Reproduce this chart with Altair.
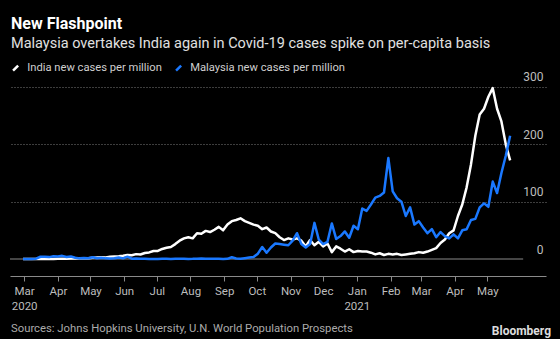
import altair as alt
import pandas as pd

# ---- data ----
SERIES = ["India new cases per million", "Malaysia new cases per million"]
COLORS = ["#ffffff", "#1a78ff"]

# sample dates: every 4 days from 2020-02-29 to 2021-05-22
dates = pd.date_range("2020-02-29", periods=113, freq="4D")

india = [
    0, 0, 0, 0, 0.02, 0.04, 0.07, 0.1, 0.3, 0.35,
    0.6, 0.7, 0.7, 1.1, 1.3, 1.2, 2.0, 2.5, 3.0, 2.8,
    4.0, 4.5, 4.8, 5.5, 7.0, 6.5, 8.5, 7.8, 10.5, 11.5,
    14, 14, 17.5, 19.5, 21, 26, 32, 36, 38, 36,
    45, 44, 49, 47, 51, 56, 50, 60, 66, 68,
    71, 66, 63, 60, 58, 52, 55, 48, 45, 38,
    33, 36, 34, 36, 32, 22, 33, 24, 30, 22,
    27, 12, 22, 18, 13, 17, 12, 14, 13, 13,
    11, 8, 10, 7, 9, 8, 9, 7, 8, 9,
    10, 12, 11, 13, 16, 19, 28, 34, 45, 50,
    75, 95, 125, 165, 215, 252, 262, 283, 298, 262,
    240, 200, 172,
]

malaysia = [
    0, 0.1, 0.2, 0.5, 3.9, 4.0, 3.3, 4.8, 4.3, 5.5,
    3.4, 4.4, 2.1, 1.1, 1.6, 1.3, 3.1, 1.2, 2.1, 1.1,
    1.0, 1.2, 2.5, 1.1, 4.0, 0.6, 0.9, 0.5, 0.3, 0.2,
    0.2, 0.1, 0.3, 0.4, 0.2, 0.3, 0.5, 0.3, 0.2, 0.3,
    0.6, 0.8, 0.3, 0.5, 0.4, 0.3, 0.2, 0.3, 3.1, 0.8,
    0.6, 1.5, 2.5, 3.6, 9.3, 21, 11, 20, 27, 26,
    25, 24, 32, 45, 26, 20, 26, 63, 34, 26,
    30, 62, 35, 40, 48, 37, 58, 52, 88, 84,
    95, 107, 110, 116, 176, 118, 106, 100, 75, 90,
    60, 66, 55, 45, 52, 38, 47, 40, 36, 43,
    36, 50, 52, 68, 70, 90, 97, 91, 135, 115,
    150, 180, 215,
]

month_ticks = pd.date_range("2020-03-01", "2021-05-01", freq="MS")
y_ticks = [0, 100, 200, 300]

TITLE = "New Flashpoint"
SUBTITLE = "Malaysia overtakes India again in Covid-19 cases spike on per-capita basis"
SOURCE = "Sources: Johns Hopkins University, U.N. World Population Prospects"
BRAND = "Bloomberg"

FONT = "Roboto"

df = pd.concat([
    pd.DataFrame({"date": dates, "value": india, "series": SERIES[0]}),
    pd.DataFrame({"date": dates, "value": malaysia, "series": SERIES[1]}),
])

x_scale = alt.Scale(domain=[alt.DateTime(year=2020, month=2, date=17),
                            alt.DateTime(year=2021, month=6, date=24)])
y_scale = alt.Scale(domain=[-29.65, 312.2], nice=False, zero=False)

x_axis = alt.Axis(
    values=[alt.DateTime(year=d.year, month=d.month, date=1) for d in month_ticks],
    labelExpr="[timeFormat(datum.value, '%b'), (month(datum.value) == 0 || (month(datum.value) == 2 && year(datum.value) == 2020)) ? timeFormat(datum.value, '%Y') : '']",
    title=None, grid=False, domainColor="#8a8a8a", tickColor="#8a8a8a",
    tickSize=5, labelColor="#bdbdbd", labelFontSize=11.5, labelFont=FONT,
    labelPadding=4, labelLineHeight=15, labelFlush=False, labelOverlap=False,
)

y_axis = alt.Axis(
    values=y_ticks, orient="right", title=None, domain=False, ticks=False,
    grid=True, gridColor="#7a7a7a", gridDash=[1, 2], gridWidth=1,
    gridOpacity={"condition": {"test": "datum.value === 0", "value": 0}, "value": 1},
    labelAlign="right", labelPadding=-3, labelBaseline="alphabetic", labelOffset=-6,
    labelColor="#bdbdbd", labelFontSize=12, labelFont=FONT,
)

color = alt.Color(
    "series:N",
    scale=alt.Scale(domain=SERIES, range=COLORS),
    legend=alt.Legend(
        orient="none", legendX=0, legendY=-18, direction="horizontal", title=None,
        symbolType="M-0.6,0.6L0.6,-0.6", symbolSize=70, symbolStrokeWidth=2.5,
        labelColor="#cfcfcf", labelFontSize=11.2, labelFont=FONT, labelLimit=400,
        labelOffset=6, columnPadding=9,
    ),
)

base = alt.Chart(df)

zero_df = pd.DataFrame({"x": [pd.Timestamp("2020-02-17")], "x2": [pd.Timestamp("2021-06-03")], "y": [0]})
zero_rule = alt.Chart(zero_df).mark_rule(color="#8a8a8a", strokeWidth=1).encode(
    x=alt.X("x:T", scale=x_scale, axis=x_axis), x2="x2:T",
    y=alt.Y("y:Q", scale=y_scale, axis=y_axis),
)

line_india = base.transform_filter(alt.datum.series == SERIES[0]).mark_line(
    strokeWidth=2.5, strokeJoin="round").encode(
    x=alt.X("date:T", scale=x_scale, axis=x_axis),
    y=alt.Y("value:Q", scale=y_scale, axis=y_axis),
    color=color,
)
line_malaysia = base.transform_filter(alt.datum.series == SERIES[1]).mark_line(
    strokeWidth=2.5, strokeJoin="round").encode(
    x=alt.X("date:T", scale=x_scale, axis=x_axis),
    y=alt.Y("value:Q", scale=y_scale, axis=y_axis),
    color=color,
)

txt = alt.Chart(pd.DataFrame({"a": [0]}))
title = txt.mark_text(text=TITLE, font=FONT, fontSize=16, fontWeight="bold",
                      color="#ffffff", align="left", baseline="alphabetic").encode(
    x=alt.value(1), y=alt.value(-51))
subtitle = txt.mark_text(text=SUBTITLE, font=FONT, fontSize=14.5, color="#e0e0e0",
                         align="left", baseline="alphabetic").encode(
    x=alt.value(1), y=alt.value(-32))
source = txt.mark_text(text=SOURCE, font=FONT, fontSize=11.3, color="#ababab",
                       align="left", baseline="alphabetic").encode(
    x=alt.value(1), y=alt.value(252))
brand = txt.mark_text(text=BRAND, font=FONT, fontSize=12, fontWeight="bold", color="#dddddd",
                      align="right", baseline="alphabetic").encode(
    x=alt.value(541), y=alt.value(255))

chart = alt.layer(zero_rule, line_india, line_malaysia, title, subtitle, source, brand).properties(
    width=536, height=196,
    padding={"left": 10, "top": 80, "right": 14, "bottom": 63},
    autosize="none",
).configure(background="#000000").configure_view(stroke=None)

chart.save("out.html", embed_options={"renderer": "svg", "actions": False})
